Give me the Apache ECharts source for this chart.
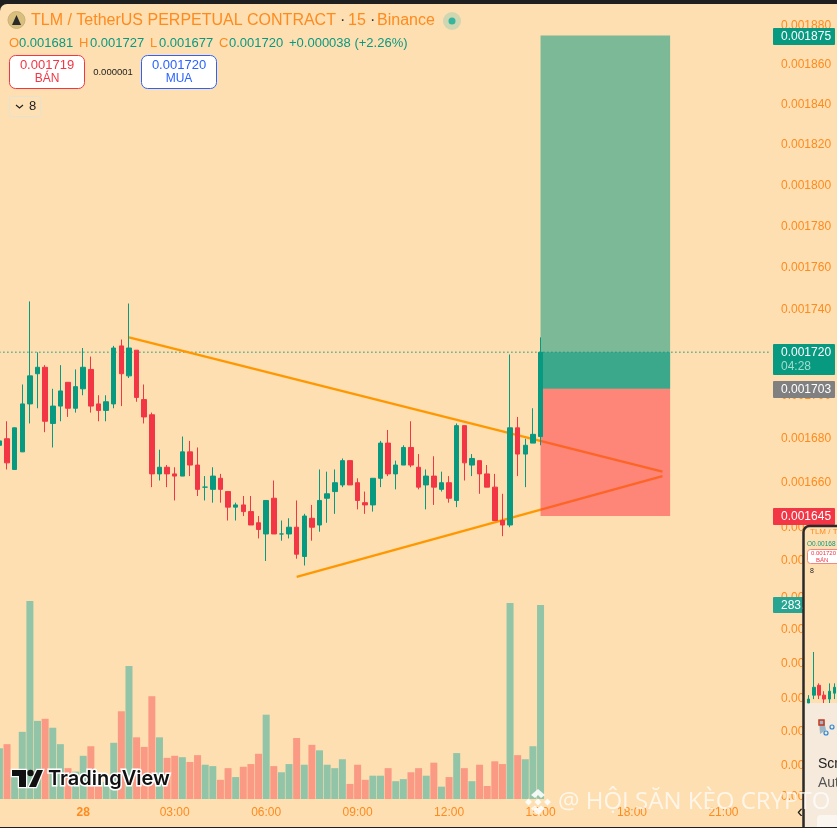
<!DOCTYPE html>
<html><head><meta charset="utf-8">
<style>html,body{margin:0;padding:0;background:#1f1f1f;overflow:hidden}
#c{position:absolute;left:-6px;top:0;width:843px;height:828px;clip-path:inset(4px 0 1px 6px round 7px 0 0 0)}</style>
<script src="https://cdn.jsdelivr.net/npm/echarts@6/dist/echarts.min.js"></script>
</head><body><div id="c"></div>
<script>
// prices are in millionths of USDT
const unit = 1e-6;
const opens  = [1677,1680,1666,1674,1696,1710,1713,1687,1695,1706,1694,1703,1712,1696,1693,1696,1723,1709,1721,1698,1691,1664,1667,1664,1663,1674,1668,1658,1657,1662,1656,1649,1650,1647,1642,1637,1653,1637,1637,1640,1627,1644,1641,1653,1656,1659,1670,1660,1651,1650,1662,1678,1664,1668,1676,1667,1659,1663,1657,1660,1652,1686,1668,1670,1664,1658,1643,1641,1685,1673,1678,1681];
const closes = [1679,1669,1685,1696,1709,1713,1688,1695,1702,1694,1704,1713,1695,1693,1697,1722,1710,1722,1699,1690,1664,1667,1664,1663,1674,1668,1657,1658,1663,1657,1649,1650,1647,1641,1639,1652,1637,1637,1640,1628,1645,1640,1652,1655,1660,1670,1659,1652,1650,1662,1678,1664,1668,1676,1668,1658,1663,1658,1660,1653,1686,1669,1671,1664,1658,1643,1641,1685,1673,1677,1682,1720];
const lows   = [1676,1666,1667,1675,1687,1694,1683,1676,1688,1690,1692,1700,1692,1688,1688,1694,1695,1708,1697,1687,1658,1661,1658,1652,1663,1663,1654,1652,1651,1651,1643,1643,1645,1641,1635,1625,1637,1634,1635,1626,1623,1634,1638,1642,1646,1658,1659,1648,1646,1647,1658,1663,1657,1668,1667,1657,1648,1650,1656,1651,1649,1661,1663,1655,1658,1643,1636,1640,1663,1658,1678,1677];
const highs  = [1680,1688,1668,1705,1744,1720,1714,1703,1714,1706,1712,1722,1718,1700,1700,1723,1726,1743,1721,1705,1692,1675,1668,1667,1681,1679,1676,1663,1667,1664,1656,1651,1654,1654,1645,1652,1661,1643,1644,1652,1646,1650,1666,1665,1666,1671,1670,1662,1656,1662,1679,1684,1670,1677,1688,1673,1666,1672,1665,1663,1687,1686,1673,1670,1668,1664,1655,1719,1690,1680,1694,1727];
const volumes= [74,80,35,98,289,114,117,104,80,45,40,63,77,28,25,82,128,194,90,76,150,90,60,63,61,54,64,50,48,28,45,32,47,51,66,123,48,39,51,89,50,79,71,50,45,58,22,50,28,34,34,45,26,29,39,45,34,53,18,32,67,45,26,50,19,55,51,286,64,58,77,283];

const priceTicks = [1880,1860,1840,1820,1800,1780,1760,1740,1720,1700,1680,1660,1640,1625,1609,1595,1580,1565,1551,1537,1524];
const timeTicks  = ['00:00','03:00','06:00','09:00','12:00','15:00','18:00','21:00'];
const dayLabel = '28';

const upperTrend = [[17,1727],[87,1665]];
const lowerTrend = [[39,1618],[87,1663]];
const boxStart = 71, boxEnd = 88;
const targetPrice = 1875, entryPrice = 1703, stopPrice = 1645, lastPrice = 1720;

const miniOpens  = [1600,1640,1690,1640,1620,1650];
const miniCloses = [1620,1680,1640,1620,1660,1680];
const miniLows   = [1600,1620,1620,1600,1600,1620];
const miniHighs  = [1640,1860,1700,1660,1700,1700];

const GREEN='#089981', RED='#f23645', ORANGE='#ff8a1e', BG='#fedfb1', FONT='"Liberation Sans",Arial,sans-serif';
const lnP = u => Math.log(u*unit);

const categories = [];
for (let i=0;i<102;i++){
  const m = (21*60+15+15*i) % 1440;
  categories.push(String(Math.floor(m/60)).padStart(2,'0')+':'+String(m%60).padStart(2,'0'));
}

const candle = opens.map((o,i)=>[lnP(o),lnP(closes[i]),lnP(lows[i]),lnP(highs[i])]);
const volData = volumes.map((v,i)=>({value:v,itemStyle:{color:closes[i]>=opens[i]?'#92c4a8':'#fa9a84'}}));
const boxes = [
  [boxStart,boxEnd,entryPrice,targetPrice,'rgba(8,153,129,.53)'],
  [boxStart,boxEnd,entryPrice,lastPrice,'rgba(8,153,129,.55)'],
  [boxStart,boxEnd,stopPrice,entryPrice,'rgba(252,54,69,.53)']
];
const Z=100;
const T=(x,y,text,o={})=>({type:'text',z:o.z||Z,x,y,silent:true,style:Object.assign({text,fill:ORANGE,font:(o.w||'normal')+' '+(o.s||12)+'px '+(o.f||FONT),textAlign:o.a||'left',textVerticalAlign:'middle'},o.st||{})});
const R=(x,y,w,h,fill,o={})=>({type:'rect',z:o.z||Z-1,silent:true,shape:{x,y,width:w,height:h,r:o.r||0},style:{fill,stroke:o.stroke||null,lineWidth:o.lw||1}});
const P=(pts,style,z)=>({type:'polygon',z:z||Z,silent:true,shape:{points:pts},style});
const tag=(y,h,fill,text)=>[R(773,y,62,h,fill,{r:1}),T(781,y+8.7,text,{st:{fill:'#fff'}})];
const wm={fill:'rgba(255,255,255,.72)',shadowColor:'rgba(60,50,30,.85)',shadowBlur:1,shadowOffsetX:1,shadowOffsetY:1};
const tvStyle={fill:'#111',stroke:'#fff',lineWidth:2.5,strokeFirst:true};
const bn={fill:'rgba(255,255,255,.88)'};
const WZ=Z+20;

const graphics=[
  // header
  {type:'circle',z:Z,silent:true,shape:{cx:16.5,cy:20,r:8.5},style:{fill:'#d9bf7d',stroke:'#cbb27a'}},
  P([[16.5,15],[21,25],[12,25]],{fill:'#2a2a2a'},Z+1),
  T(31,21,'TLM / TetherUS PERPETUAL CONTRACT',{s:16}),
  T(340,21,'·',{s:16,st:{fill:'#333'}}),T(348,21,'15',{s:16}),T(370,21,'·',{s:16,st:{fill:'#333'}}),T(377,21,'Binance',{s:16}),
  {type:'circle',z:Z,silent:true,shape:{cx:452,cy:21,r:9},style:{fill:'#cfd6b2'}},
  {type:'circle',z:Z+1,silent:true,shape:{cx:452,cy:21,r:3.5},style:{fill:'#35b59e'}},
  T(9,43,'O',{s:13}),T(19,43,'0.001681',{s:13,st:{fill:GREEN}}),
  T(79,43,'H',{s:13}),T(90,43,'0.001727',{s:13,st:{fill:GREEN}}),
  T(150,43,'L',{s:13}),T(159,43,'0.001677',{s:13,st:{fill:GREEN}}),
  T(219,43,'C',{s:13}),T(229,43,'0.001720',{s:13,st:{fill:GREEN}}),
  T(289,43,'+0.000038 (+2.26%)',{s:13,st:{fill:GREEN}}),
  R(9.5,55.5,75,33,'#fff',{r:6,stroke:RED}),
  T(47,65,'0.001719',{a:'center',s:13,st:{fill:RED}}),T(47,79,'BÁN',{a:'center',s:12,st:{fill:RED}}),
  T(113,72,'0.000001',{a:'center',s:9.5,st:{fill:'#222'}}),
  R(141.5,55.5,75,33,'#fff',{r:6,stroke:'#2962ff'}),
  T(179,65,'0.001720',{a:'center',s:13,st:{fill:'#2962ff'}}),T(179,79,'MUA',{a:'center',s:12,st:{fill:'#2962ff'}}),
  R(9.5,96.5,31,20,'rgba(255,255,255,.05)',{r:2,stroke:'#e6e2d2'}),
  {type:'polyline',z:Z,silent:true,shape:{points:[[16,105],[19.5,108],[23,105]]},style:{stroke:'#222',fill:null,lineWidth:1.2}},
  T(29,106,'8',{s:13,st:{fill:'#222'}}),
  // price tags
  ...tag(28,17,GREEN,'0.001875'),
  R(773,344,62,31,GREEN,{r:1}),T(781,352.5,'0.001720',{st:{fill:'#fff'}}),T(781,366.5,'04:28',{st:{fill:'#a5dccc'}}),
  ...tag(381,17,'#808080','0.001703'),
  ...tag(508,17,RED,'0.001645'),
  ...tag(597,16,'#27a592','283.'),
  // TradingView mark
  P([[12,770],[26,770],[26,787],[19,787],[19,776],[12,776]],tvStyle),
  P([[37,770],[43,770],[36,787],[29,787]],tvStyle),
  {type:'circle',z:Z,silent:true,shape:{cx:30.5,cy:773,r:3.2},style:{fill:'#111'}},
  T(48,778.5,'TradingView',{s:20,w:'600',f:'Inter,'+FONT,st:{fill:'#111',stroke:'#fff',lineWidth:3}}),
  // watermark
  P([[538,789],[545,795],[541,798],[538,795],[535,798],[531,795]],bn,WZ),
  P([[525,802],[528.5,798.5],[532,802],[528.5,805.5]],bn,WZ),
  P([[544,802],[547.5,798.5],[551,802],[547.5,805.5]],bn,WZ),
  P([[534.5,802],[538,798.5],[541.5,802],[538,805.5]],bn,WZ),
  P([[538,815],[531,808.5],[535,805.5],[538,808.5],[541,805.5],[545,808.5]],bn,WZ),
  T(558,802,'@ HỘI SĂN KÈO CRYPTO',{s:24,f:'"Open Sans",'+FONT,z:WZ,st:wm}),
  // inset screenshot
  {type:'rect',z:Z+3,silent:true,shape:{x:803.5,y:526,width:50,height:320,r:[6,0,0,0]},style:{fill:BG,stroke:'#2a2a2a',lineWidth:2.5}},
  R(805,703,38,125,'#f5eadc',{z:Z+4}),
  T(810,532,'TLM / T',{s:8,z:Z+5,st:{fill:'#ff8a1e'}}),
  T(807,544,'O0.00168',{s:6.5,z:Z+5,st:{fill:GREEN}}),
  R(807.5,549.5,50,14,'#fff',{z:Z+5,r:3,stroke:'#f08a80'}),
  T(811,553.5,'0.001720',{s:6,z:Z+6,st:{fill:RED}}),T(816,560,'BÁN',{s:6,z:Z+6,st:{fill:RED}}),
  T(810,571,'8',{s:7,z:Z+5,st:{fill:'#222'}}),
  P([[819,720],[824,720],[826,730],[820,734]],{fill:'#9fb6c6'},Z+5),
  R(819,720,5,5,null,{z:Z+6,stroke:'#c5371c',lw:1.5}),
  {type:'circle',z:Z+6,silent:true,shape:{cx:826,cy:733,r:2},style:{fill:'none',stroke:'#2b88d8',lineWidth:1.2}},
  {type:'circle',z:Z+6,silent:true,shape:{cx:832,cy:727,r:2},style:{fill:'none',stroke:'#2b88d8',lineWidth:1.2}},
  T(818,764,'Scr',{s:14,z:Z+5,st:{fill:'#222'}}),T(818,783,'Aut',{s:14,z:Z+5,st:{fill:'#555'}}),
  R(817,815,25,20,'#fbf7f0',{z:Z+5,r:4}),
  T(800,812,'‹',{s:18,z:Z+5,a:'center',st:{fill:'#222'}})
];

const chart=echarts.init(document.getElementById('c'),null,{renderer:'canvas'});
chart.setOption({
  animation:false,backgroundColor:BG,
  grid:[
    {left:1.6,right:64,top:4,bottom:29},
    {left:812,width:31,top:650,height:53,z:Z+5}
  ],
  xAxis:[
    {type:'category',data:categories,axisLine:{show:false},axisTick:{show:false},splitLine:{show:false},
     axisLabel:{interval:i=>timeTicks.includes(categories[i]),margin:8,fontFamily:FONT,fontSize:12,color:ORANGE,
       fontWeight:'normal',
       formatter:v=>v==='00:00'?'{d|'+dayLabel+'}':v,rich:{d:{fontWeight:'bold',fontFamily:FONT,fontSize:12,color:ORANGE}}}},
    {type:'category',gridIndex:1,data:miniOpens.map((_,i)=>i),show:false}
  ],
  yAxis:[
    {type:'value',position:'right',min:lnP(1523.03),max:lnP(1891.1),scale:true,
     axisLine:{show:false},axisTick:{show:false},splitLine:{show:false},
     axisLabel:{customValues:priceTicks.map(lnP),margin:8,fontFamily:FONT,fontSize:12,color:ORANGE,
       formatter:v=>Math.exp(v).toFixed(6)}},
    {type:'value',min:0,max:1160,show:false,splitLine:{show:false}},
    {type:'value',gridIndex:1,min:1600,max:1870,show:false,splitLine:{show:false}}
  ],
  series:[
    {type:'bar',name:'Volume',xAxisIndex:0,yAxisIndex:1,data:volData,barWidth:7,z:1,silent:true},
    {type:'line',name:'Last',data:[[0,lnP(lastPrice)],[101,lnP(lastPrice)]],showSymbol:false,silent:true,z:2,lineStyle:{color:GREEN,width:1.5,type:[1,3]}},
    {type:'line',name:'Upper',data:upperTrend.map(p=>[p[0],lnP(p[1])]),showSymbol:false,silent:true,z:2,lineStyle:{color:'#ff9800',width:2.4}},
    {type:'line',name:'Lower',data:lowerTrend.map(p=>[p[0],lnP(p[1])]),showSymbol:false,silent:true,z:2,lineStyle:{color:'#ff9800',width:2.4}},
    {type:'custom',name:'Position',data:boxes,silent:true,z:3,clip:false,
     renderItem:(p,api)=>{
       const d=boxes[p.dataIndex];
       const a=api.coord([d[0],lnP(d[3])]),b=api.coord([d[1],lnP(d[2])]);
       return {type:'rect',shape:{x:a[0],y:a[1],width:b[0]-a[0],height:b[1]-a[1]},style:{fill:d[4]}};
     },encode:{x:0,y:2}},
    {type:'candlestick',name:'TLMUSDT',data:candle,barWidth:5,z:4,silent:true,
     itemStyle:{color:GREEN,color0:RED,borderColor:GREEN,borderColor0:RED,borderWidth:1}},
    {type:'candlestick',name:'mini',xAxisIndex:1,yAxisIndex:2,z:Z+6,silent:true,barWidth:3,
     data:miniOpens.map((o,i)=>[o,miniCloses[i],miniLows[i],miniHighs[i]]),
     itemStyle:{color:GREEN,color0:RED,borderColor:GREEN,borderColor0:RED,borderWidth:1}}
  ],
  graphic:{elements:[{type:'group',x:6,y:0,children:graphics}]}
});
</script></body></html>
